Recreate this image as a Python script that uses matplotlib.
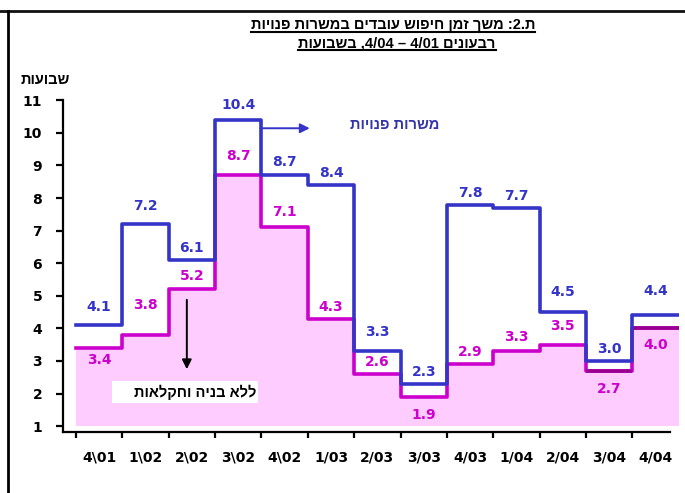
import re
import numpy as np
import matplotlib
matplotlib.use('Agg')
import matplotlib.pyplot as plt
from matplotlib.lines import Line2D
from matplotlib.patches import Rectangle

quarters = ['4\\01', '1\\02', '2\\02', '3\\02', '4\\02', '1/03', '2/03',
            '3/03', '4/03', '1/04', '2/04', '3/04', '4/04']
vacancies = [4.1, 7.2, 6.1, 10.4, 8.7, 8.4, 3.3, 2.3, 7.8, 7.7, 4.5, 3.0, 4.4]
no_construction = [3.4, 3.8, 5.2, 8.7, 7.1, 4.3, 2.6, 1.9, 2.9, 3.3, 3.5, 2.7, 4.0]

title_1 = 'ת.2: משך זמן חיפוש עובדים במשרות פנויות'
title_2 = 'רבעונים 4/01 – 4/04, בשבועות'
y_label = 'שבועות'
vacancies_label = 'משרות פנויות'
no_construction_label = 'ללא בניה וחקלאות'

BLUE = '#3434C8'
MAGENTA = '#CC00CC'
DARK_MAGENTA = '#990090'
PINK = '#FFCCFF'
FONTS = ['Liberation Sans', 'DejaVu Sans']


def rtl(s):
    # matplotlib draws left to right, so flip hebrew but keep numbers in order
    out = s[::-1]
    return re.sub(r'[0-9][0-9/.]*[0-9]|[0-9]', lambda m: m.group(0)[::-1], out)


def step_values(values):
    return np.append(values, values[-1])


def underline(fig, text, lw=1.5):
    bb = text.get_window_extent()
    inv = fig.transFigure.inverted()
    (x0, y0), (x1, _) = inv.transform([(bb.x0, bb.y0), (bb.x1, bb.y1)])
    fig.add_artist(Line2D([x0, x1], [y0 + 0.001, y0 + 0.001], color='black', lw=lw))


fig = plt.figure(figsize=(6.85, 4.93), dpi=100)
ax = fig.add_axes([0.092, 0.1237, 0.899, 0.673])

edges = np.arange(len(quarters) + 1)

ax.fill_between(edges, 1.0, step_values(no_construction), step='post',
                color=PINK, lw=0, zorder=1)
ax.step(edges, step_values(vacancies), where='post', color=BLUE, lw=2.6, zorder=3)
ax.step(edges, step_values(no_construction), where='post', color=MAGENTA, lw=2.6, zorder=2)
ax.hlines(no_construction[-2:], edges[-3:-1], edges[-2:], color=DARK_MAGENTA, lw=2.6, zorder=2)

# label offsets in pixels, plus is above the line
blue_off = [18, 18, 12, 15, 13, 12, 19, 12, 12, 12, 20, 12, 24]
mag_off = [-12, 30, 13, 19, 15, 12, 12, -18, 12, 14, 19, -18, -17]
for i, v in enumerate(vacancies):
    ax.annotate(f'{v:.1f}', (i + 0.5, v), xytext=(0, blue_off[i]), textcoords='offset pixels',
                ha='center', va='center', color=BLUE, fontsize=10, fontweight='bold',
                family='DejaVu Sans', zorder=5)
for i, v in enumerate(no_construction):
    ax.annotate(f'{v:.1f}', (i + 0.5, v), xytext=(0, mag_off[i]), textcoords='offset pixels',
                ha='center', va='center', color=MAGENTA, fontsize=10, fontweight='bold',
                family='DejaVu Sans', zorder=5)

# axes
ax.set_xlim(-0.28, 13.0)
ax.set_ylim(0.82, 11)
for side in ['top', 'right']:
    ax.spines[side].set_visible(False)
for side in ['left', 'bottom']:
    ax.spines[side].set_linewidth(1.6)
ax.spines['bottom'].set_bounds(-0.28, 12.8)
ax.spines['left'].set_bounds(0.82, 11)

ax.set_yticks(range(1, 12))
ax.set_yticklabels([str(t) for t in range(1, 12)], fontsize=10, fontweight='bold',
                   family='DejaVu Sans')
ax.tick_params(axis='y', direction='out', length=5, width=1.6, pad=10)

ax.set_xticks(edges[:-1])
ax.set_xticklabels([])
ax.tick_params(axis='x', which='major', direction='out', length=4, width=1.6)
ax.set_xticks(edges[:-1] + 0.5, minor=True)
ax.set_xticklabels(quarters, minor=True, fontsize=10, fontweight='bold', family='DejaVu Sans')
ax.tick_params(axis='x', which='minor', length=0, pad=13)

# annotations
ax.annotate('', xy=(2.39, 2.66), xytext=(2.39, 4.96),
            arrowprops=dict(arrowstyle='-|>', color='black', lw=1.4, mutation_scale=14), zorder=6)
ax.add_patch(Rectangle((0.78, 1.71), 3.14, 0.67, facecolor='white', edgecolor='none', zorder=4))
ax.text(3.9, 2.05, rtl(no_construction_label), ha='right', va='center', fontsize=10.5,
        fontweight='bold', family=FONTS, zorder=6)

ax.annotate('', xy=(5.1, 10.14), xytext=(3.92, 10.14),
            arrowprops=dict(arrowstyle='-|>', color=BLUE, lw=1.4, mutation_scale=14), zorder=6)
ax.text(6.88, 10.23, rtl(vacancies_label), ha='center', va='center', fontsize=10.5,
        fontweight='bold', color='#3333AA', family=FONTS)

fig.text(45 / 685, 1 - 80 / 493, rtl(y_label), ha='center', va='center', fontsize=10.5,
         fontweight='bold', family=FONTS)

# titles
t1 = fig.text(393 / 685, 1 - 25 / 493, rtl(title_1), ha='center', va='center', fontsize=10.5,
              fontweight='bold', family=FONTS)
t2 = fig.text(397 / 685, 1 - 43 / 493, rtl(title_2), ha='center', va='center', fontsize=10.5,
              fontweight='bold', family=FONTS)

# frame lines round the chart
fig.add_artist(Line2D([0, 1], [1 - 11 / 493, 1 - 11 / 493], color='#111111', lw=2))
fig.add_artist(Line2D([8 / 685, 8 / 685], [0, 1 - 11 / 493], color='black', lw=2))

fig.canvas.draw()
underline(fig, t1)
underline(fig, t2)

fig.savefig('out.png', dpi=100)
